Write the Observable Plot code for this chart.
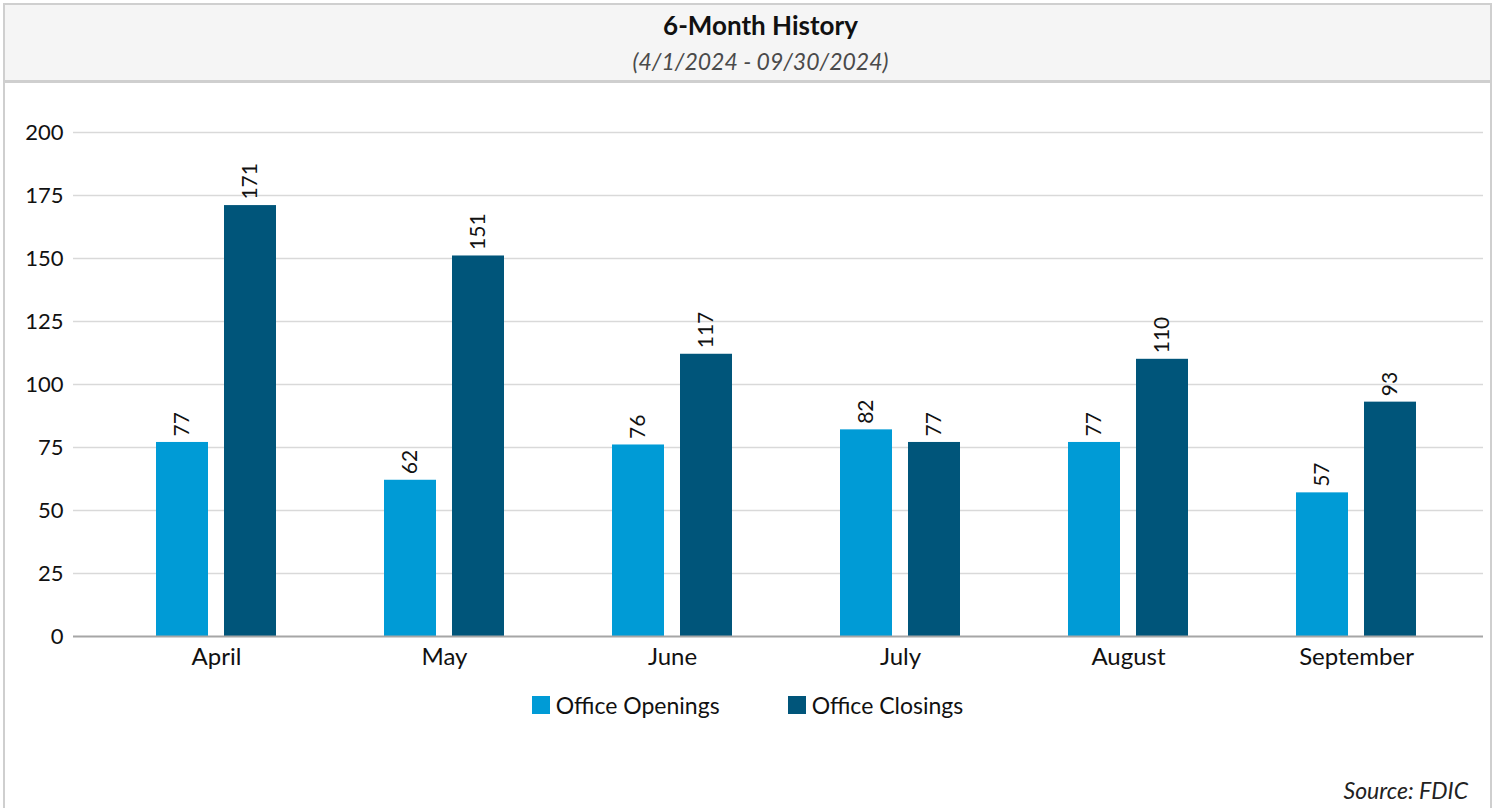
<!DOCTYPE html>
<html><head><meta charset="utf-8">
<script src="https://cdn.jsdelivr.net/npm/d3@7"></script>
<script src="https://cdn.jsdelivr.net/npm/@observablehq/plot@0.6"></script>
<style>
body{margin:0;background:#fff;font-family:Lato,"Open Sans",sans-serif;color:#111;}
#frame{position:absolute;left:3px;top:3px;width:1485px;height:820px;border:2px solid #cfcfcf;border-bottom:none;overflow:hidden;}
#head{height:75px;background:#f5f5f5;border-bottom:3px solid #cfcfcf;text-align:center;padding-left:26px;box-sizing:content-box;}
#title{font-weight:700;font-size:26px;color:#111;padding-top:6px;line-height:28px;}
#sub{font-style:italic;font-size:23px;color:#4a4a4a;line-height:28px;margin-top:8px;}
#chart svg{display:block;}
#legend{position:absolute;top:687px;left:0;width:100%;display:flex;justify-content:center;gap:68px;font-size:23px;line-height:26px;}
#legend .item{display:flex;align-items:center;gap:6px;}
#legend .sw{width:18px;height:18px;display:inline-block;}
#source{position:absolute;top:772px;right:22px;font-style:italic;font-size:23px;line-height:26px;color:#222;}
</style>
</head><body>
<div id="frame">
  <div id="head"><div id="title">6-Month History</div><div id="sub">(4/1/2024 - 09/30/2024)</div></div>
  <div id="chart"></div>
  <div id="legend"></div>
  <div id="source">Source: FDIC</div>
</div>
<script>
const months = ["April","May","June","July","August","September"];
const openings = [77,62,76,82,77,57];
const closings = [171,151,112,77,110,93];
const openingLabels = ["77","62","76","82","77","57"];
const closingLabels = ["171","151","117","77","110","93"];
const series = ["Office Openings","Office Closings"];
const colors = ["#009bd6","#00557a"];
const yTicks = [0,25,50,75,100,125,150,175,200];

const openRows = months.map((m,i)=>({month:m, series:series[0], value:openings[i], label:openingLabels[i]}));
const closeRows = months.map((m,i)=>({month:m, series:series[1], value:closings[i], label:closingLabels[i]}));

const font = 'Lato, "Open Sans", sans-serif';
const chart = Plot.plot({
  width:1485, height:590,
  marginLeft:68, marginRight:7, marginTop:49, marginBottom:37,
  style:{fontFamily:font, fontSize:"20px", color:"#111", background:"transparent", overflow:"visible"},
  x:{domain:months, range:[97,1465], padding:0},
  y:{domain:[0,200]},
  color:{domain:series, range:colors},
  marks:[
    Plot.ruleY(yTicks.filter(t=>t>0), {stroke:"#d9d9d9", strokeWidth:1.5}),
    Plot.axisY({ticks:yTicks, label:null, tickSize:0, tickPadding:10, fontSize:22, fill:"#111"}),
    Plot.axisX({label:null, tickSize:0, tickPadding:11, fontSize:24, fill:"#111"}),
    Plot.barY(openRows, {x:"month", y:"value", fill:"series", insetLeft:54, insetRight:122}),
    Plot.barY(closeRows, {x:"month", y:"value", fill:"series", insetLeft:122, insetRight:54}),
    Plot.ruleY([0], {stroke:"#a6a6a6", strokeWidth:2}),
    Plot.text(openRows, {x:"month", y:"value", text:"label", rotate:-90, textAnchor:"start", dx:-34, dy:-6, fontSize:21, fill:"#111"}),
    Plot.text(closeRows, {x:"month", y:"value", text:"label", rotate:-90, textAnchor:"start", dx:34, dy:-6, fontSize:21, fill:"#111"})
  ]
});
document.getElementById("chart").appendChild(chart);

const legend = document.getElementById("legend");
series.forEach((s,i)=>{
  const it = document.createElement("div"); it.className="item";
  const sw = document.createElement("span"); sw.className="sw"; sw.style.background=colors[i];
  const tx = document.createElement("span"); tx.textContent=s;
  it.appendChild(sw); it.appendChild(tx); legend.appendChild(it);
});
</script>
</body></html>
